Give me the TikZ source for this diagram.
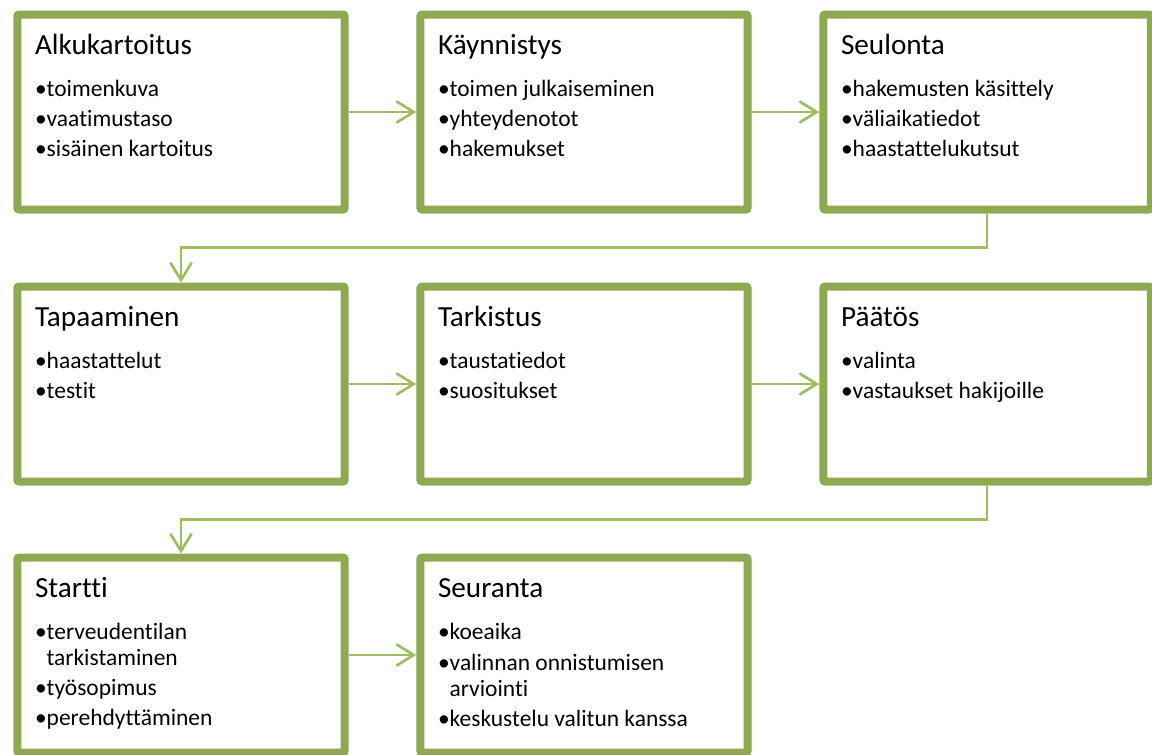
\documentclass[tikz,border=0pt]{standalone}
\usepackage{fontspec}
\setmainfont[Ligatures={NoCommon}]{Carlito}
\usetikzlibrary{arrows.meta,calc,shadows}
\definecolor{boxgreen}{RGB}{142,169,82}
\definecolor{linkgreen}{RGB}{158,189,96}
\newcommand\ttlnode[2]{\node[ttl] (#1t) at ($(#1.north west)+(21.5,43.5)$) {#2};}
\newcommand\itmnode[4]{\node[itm] (#1i#2) at ($(#1.north west)+(21.5,#3)$) {•#4};}
\newcommand\contnode[4]{\node[itm] (#1i#2) at ($(#1.north west)+(33,#3)$) {#4};}
\begin{document}
\begin{tikzpicture}[x=0.75pt,y=-0.75pt,
  pbox/.style={draw=boxgreen, line width=6pt, fill=white, rounded corners=1.5pt,
    minimum width=245.6pt, minimum height=146.25pt, inner sep=0pt,
    drop shadow={shadow xshift=1pt,shadow yshift=-1.5pt,opacity=0.22}},
  ttl/.style={anchor=base west, inner sep=0pt, font=\fontsize{21.9pt}{26pt}\selectfont},
  itm/.style={anchor=base west, inner sep=0pt, font=\fontsize{17.6pt}{20pt}\selectfont},
  link/.style={draw=linkgreen, line width=2pt, -{Straight Barb[length=13pt,width=16pt]}}]
\useasboundingbox (0,0) rectangle (1152,754);
\node[pbox] (b1) at (181,112) {};
\node[pbox] (b2) at (584,112) {};
\node[pbox] (b3) at (987,112) {};
\node[pbox] (b4) at (181,384) {};
\node[pbox] (b5) at (584,384) {};
\node[pbox] (b6) at (987,384) {};
\node[pbox] (b7) at (181,655) {};
\node[pbox] (b8) at (584,655) {};
% row 1
\ttlnode{b1}{Alkukartoitus}
\itmnode{b1}{1}{85.5}{toimenkuva}
\itmnode{b1}{2}{115.5}{vaatimustaso}
\itmnode{b1}{3}{146}{sisäinen kartoitus}
\ttlnode{b2}{Käynnistys}
\itmnode{b2}{1}{85.5}{toimen julkaiseminen}
\itmnode{b2}{2}{115.5}{yhteydenotot}
\itmnode{b2}{3}{146}{hakemukset}
\ttlnode{b3}{Seulonta}
\itmnode{b3}{1}{85.5}{hakemusten käsittely}
\itmnode{b3}{2}{115.5}{väliaikatiedot}
\itmnode{b3}{3}{146}{haastattelukutsut}
% row 2
\ttlnode{b4}{Tapaaminen}
\itmnode{b4}{1}{85.5}{haastattelut}
\itmnode{b4}{2}{115.5}{testit}
\ttlnode{b5}{Tarkistus}
\itmnode{b5}{1}{85.5}{taustatiedot}
\itmnode{b5}{2}{115.5}{suositukset}
\ttlnode{b6}{Päätös}
\itmnode{b6}{1}{85.5}{valinta}
\itmnode{b6}{2}{115.5}{vastaukset hakijoille}
% row 3
\ttlnode{b7}{Startti}
\itmnode{b7}{1}{86}{terveudentilan}
\contnode{b7}{2}{112}{tarkistaminen}
\itmnode{b7}{3}{142}{työsopimus}
\itmnode{b7}{4}{172}{perehdyttäminen}
\ttlnode{b8}{Seuranta}
\itmnode{b8}{1}{86}{koeaika}
\itmnode{b8}{2}{116.5}{valinnan onnistumisen}
\contnode{b8}{3}{142.5}{arviointi}
\itmnode{b8}{4}{172.5}{keskustelu valitun kanssa}
% connectors
\draw[link] (b1.east) -- (b2.west);
\draw[link] (b2.east) -- (b3.west);
\draw[link] (b3.south) -- ++(0,34) -| (b4.north);
\draw[link] (b4.east) -- (b5.west);
\draw[link] (b5.east) -- (b6.west);
\draw[link] (b6.south) -- ++(0,34) -| (b7.north);
\draw[link] (b7.east) -- (b8.west);
\end{tikzpicture}
\end{document}
